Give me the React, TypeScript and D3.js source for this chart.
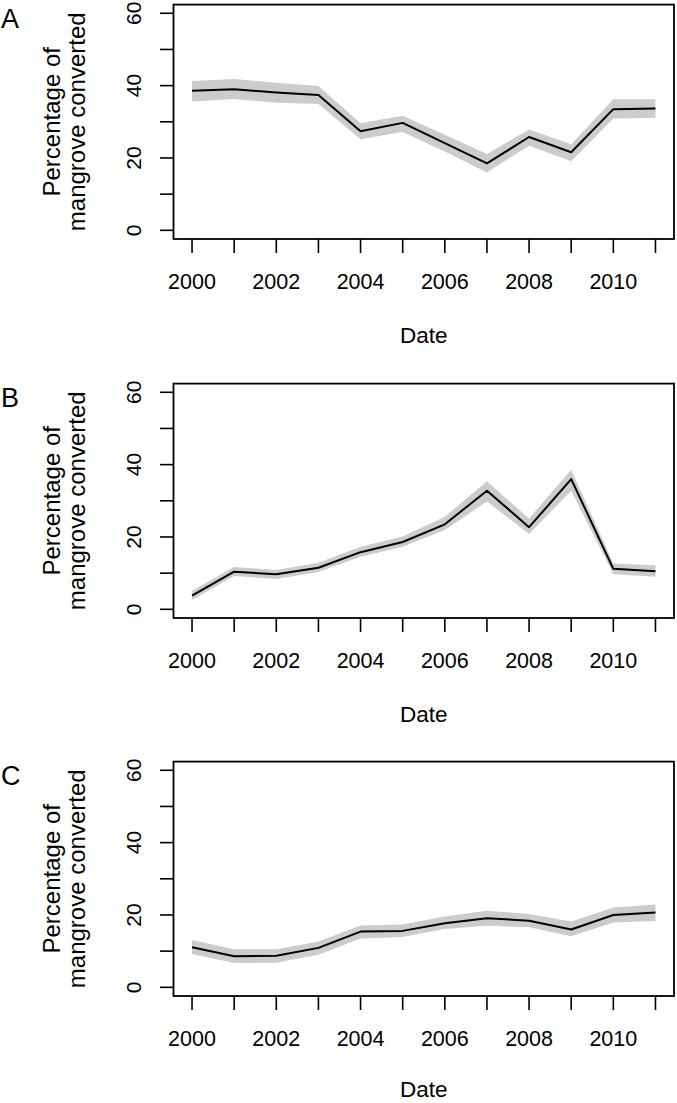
import React from "react";
import * as d3 from "d3";

const years = [2000, 2001, 2002, 2003, 2004, 2005, 2006, 2007, 2008, 2009, 2010, 2011];
const yTicks = [0, 10, 20, 30, 40, 50, 60];
const yTickLabels = [0, 20, 40, 60];
const xTickLabels = [2000, 2002, 2004, 2006, 2008, 2010];
const panelLetters = ["A", "B", "C"];

const meanA = [38.6, 39.0, 38.1, 37.4, 27.4, 29.7, 24.1, 18.5, 25.8, 21.6, 33.5, 33.7];
const upperA = [41.3, 41.8, 40.8, 39.9, 29.6, 31.7, 26.4, 21.1, 27.9, 23.8, 36.2, 36.2];
const lowerA = [35.6, 36.3, 35.3, 34.9, 25.2, 27.2, 21.8, 16.0, 23.4, 19.1, 30.9, 31.1];

const meanB = [3.8, 10.4, 9.7, 11.5, 15.8, 18.6, 23.5, 32.8, 22.7, 36.0, 11.2, 10.5];
const upperB = [5.1, 11.7, 10.9, 12.9, 17.3, 20.1, 25.6, 35.4, 25.1, 38.6, 12.7, 12.2];
const lowerB = [2.6, 9.2, 8.4, 10.3, 14.5, 17.3, 21.9, 29.8, 20.8, 32.8, 9.7, 9.0];

const meanC = [11.1, 8.6, 8.7, 10.9, 15.4, 15.6, 17.7, 19.1, 18.4, 16.0, 20.0, 20.7];
const upperC = [13.1, 10.5, 10.5, 12.7, 17.1, 17.4, 19.6, 21.2, 20.3, 18.2, 22.1, 22.9];
const lowerC = [9.2, 6.7, 6.8, 9.0, 13.5, 13.9, 16.1, 17.0, 16.6, 14.1, 17.9, 18.3];

const panels = [
  { letter: panelLetters[0], mean: meanA, upper: upperA, lower: lowerA },
  { letter: panelLetters[1], mean: meanB, upper: upperB, lower: lowerB },
  { letter: panelLetters[2], mean: meanC, upper: upperC, lower: lowerC },
];

const W = 677;
const H = 1103;
const offsets = [0, 379, 757];
const dateY = [343, 343, 340];
const FONT = "'Liberation Sans', Arial, Helvetica, sans-serif";

const x = d3.scaleLinear().domain([2000 - 0.44, 2011 + 0.44]).range([173.5, 674]);
const y = d3.scaleLinear().domain([-2.4, 62.4]).range([239, 4.6]);

function Panel({ p, oy, dy }: { p: typeof panels[0]; oy: number; dy: number }) {
  const pts = years.map((yr, i) => ({ yr, m: p.mean[i], lo: p.lower[i], hi: p.upper[i] }));
  const area = d3
    .area<typeof pts[0]>()
    .x((d) => x(d.yr))
    .y0((d) => y(d.lo))
    .y1((d) => y(d.hi));
  const line = d3
    .line<typeof pts[0]>()
    .x((d) => x(d.yr))
    .y((d) => y(d.m));
  const [x0, x1] = x.range();
  const [yb, yt] = y.range();
  const midY = (yb + yt) / 2;
  const midX = (x0 + x1) / 2;
  return (
    <g transform={`translate(0,${oy})`}>
      <text x={1} y={28} fontSize={27} fontFamily={FONT} fill="#000">
        {p.letter}
      </text>
      <path d={area(pts) || ""} fill="#cccccc" stroke="none" />
      <path d={line(pts) || ""} fill="none" stroke="#000" strokeWidth={2} strokeLinejoin="round" />
      <rect x={x0} y={yt} width={x1 - x0} height={yb - yt} fill="none" stroke="#000" strokeWidth={1.8} />
      {yTicks.map((t) => (
        <line key={"yt" + t} x1={160} x2={x0} y1={y(t)} y2={y(t)} stroke="#000" strokeWidth={1.6} />
      ))}
      {yTickLabels.map((t) => (
        <text
          key={"yl" + t}
          transform={`translate(140.5,${y(t)}) rotate(-90)`}
          textAnchor="middle"
          fontSize={21}
          fontFamily={FONT}
          fill="#000"
        >
          {t}
        </text>
      ))}
      {years.map((t) => (
        <line key={"xt" + t} x1={x(t)} x2={x(t)} y1={yb} y2={253} stroke="#000" strokeWidth={1.6} />
      ))}
      {xTickLabels.map((t) => (
        <text key={"xl" + t} x={x(t)} y={288.5} textAnchor="middle" fontSize={21.5} fontFamily={FONT} fill="#000">
          {t}
        </text>
      ))}
      <text x={midX} y={dy} textAnchor="middle" fontSize={22.5} fontFamily={FONT} fill="#000">
        Date
      </text>
      <text transform={`translate(60,${midY}) rotate(-90)`} textAnchor="middle" fontSize={24} fontFamily={FONT} fill="#000">
        Percentage of
      </text>
      <text transform={`translate(85,${midY}) rotate(-90)`} textAnchor="middle" fontSize={24} fontFamily={FONT} fill="#000">
        mangrove converted
      </text>
    </g>
  );
}

export default function App() {
  return (
    <svg
      width={W}
      height={H}
      style={{ position: "absolute", left: 0, top: 0, background: "#fff" }}
      xmlns="http://www.w3.org/2000/svg"
    >
      <rect x={0} y={0} width={W} height={H} fill="#fff" />
      {panels.map((p, i) => (
        <Panel key={p.letter} p={p} oy={offsets[i]} dy={dateY[i]} />
      ))}
    </svg>
  );
}
